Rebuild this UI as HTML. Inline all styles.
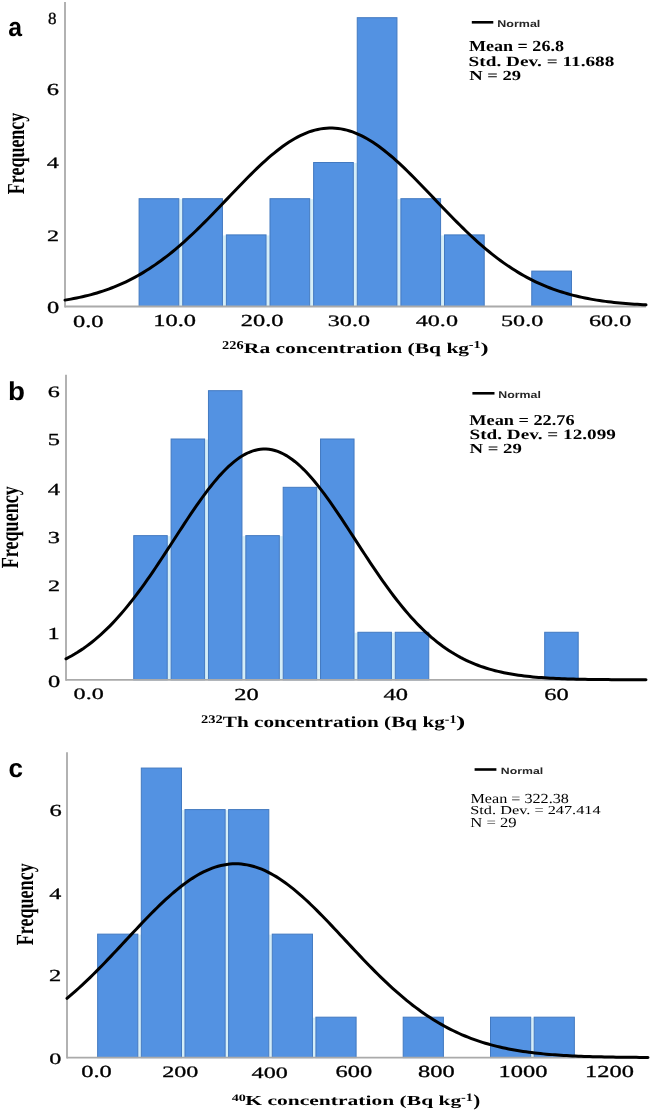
<!DOCTYPE html><html><head><meta charset="utf-8"><style>html,body{margin:0;padding:0;background:#fff;}svg{display:block;will-change:transform;filter:blur(0.35px);} text{text-rendering:geometricPrecision;}</style></head><body>
<svg width="650" height="1110" viewBox="0 0 650 1110">
<rect width="650" height="1110" fill="#fff"/>
<g id="gfx">
<rect x="179.30" y="199.20" width="2.93" height="107.30" fill="#d4eef8"/>
<rect x="222.93" y="235.40" width="2.93" height="71.10" fill="#d4eef8"/>
<rect x="266.56" y="235.40" width="2.93" height="71.10" fill="#d4eef8"/>
<rect x="310.19" y="199.20" width="2.93" height="107.30" fill="#d4eef8"/>
<rect x="353.82" y="163.00" width="2.93" height="143.50" fill="#d4eef8"/>
<rect x="397.45" y="199.20" width="2.93" height="107.30" fill="#d4eef8"/>
<rect x="441.08" y="235.40" width="2.93" height="71.10" fill="#d4eef8"/>
<rect x="139.10" y="198.70" width="39.70" height="107.80" fill="#5392e2" stroke="#4279c0" stroke-width="1"/>
<rect x="182.73" y="198.70" width="39.70" height="107.80" fill="#5392e2" stroke="#4279c0" stroke-width="1"/>
<rect x="226.36" y="234.90" width="39.70" height="71.60" fill="#5392e2" stroke="#4279c0" stroke-width="1"/>
<rect x="269.99" y="198.70" width="39.70" height="107.80" fill="#5392e2" stroke="#4279c0" stroke-width="1"/>
<rect x="313.62" y="162.50" width="39.70" height="144.00" fill="#5392e2" stroke="#4279c0" stroke-width="1"/>
<rect x="357.25" y="17.70" width="39.70" height="288.80" fill="#5392e2" stroke="#4279c0" stroke-width="1"/>
<rect x="400.88" y="198.70" width="39.70" height="107.80" fill="#5392e2" stroke="#4279c0" stroke-width="1"/>
<rect x="444.51" y="234.90" width="39.70" height="71.60" fill="#5392e2" stroke="#4279c0" stroke-width="1"/>
<rect x="531.77" y="271.10" width="39.70" height="35.40" fill="#5392e2" stroke="#4279c0" stroke-width="1"/>
<line x1="65.00" y1="2.00" x2="65.00" y2="307.40" stroke="#aaaaaa" stroke-width="1.8"/>
<line x1="65.00" y1="306.50" x2="646.00" y2="306.50" stroke="#aaaaaa" stroke-width="1.8"/>
<path d="M65.00 300.11 L67.91 299.63 L70.81 299.12 L73.72 298.58 L76.62 298.00 L79.53 297.39 L82.43 296.75 L85.34 296.07 L88.24 295.35 L91.14 294.59 L94.05 293.78 L96.95 292.94 L99.86 292.05 L102.77 291.11 L105.67 290.12 L108.58 289.09 L111.48 288.00 L114.38 286.87 L117.29 285.68 L120.19 284.43 L123.10 283.13 L126.00 281.77 L128.91 280.36 L131.81 278.88 L134.72 277.35 L137.62 275.75 L140.53 274.09 L143.44 272.37 L146.34 270.59 L149.25 268.75 L152.15 266.84 L155.06 264.87 L157.96 262.83 L160.87 260.73 L163.77 258.57 L166.68 256.35 L169.58 254.06 L172.49 251.72 L175.39 249.31 L178.30 246.85 L181.20 244.33 L184.11 241.76 L187.01 239.13 L189.92 236.46 L192.82 233.73 L195.72 230.96 L198.63 228.14 L201.53 225.29 L204.44 222.39 L207.34 219.47 L210.25 216.51 L213.16 213.53 L216.06 210.52 L218.97 207.50 L221.87 204.46 L224.78 201.41 L227.68 198.36 L230.59 195.31 L233.49 192.26 L236.40 189.22 L239.30 186.20 L242.21 183.19 L245.11 180.22 L248.01 177.27 L250.92 174.36 L253.82 171.49 L256.73 168.67 L259.63 165.90 L262.54 163.19 L265.44 160.55 L268.35 157.97 L271.25 155.47 L274.16 153.05 L277.06 150.71 L279.97 148.46 L282.88 146.31 L285.78 144.26 L288.69 142.31 L291.59 140.48 L294.50 138.75 L297.40 137.14 L300.31 135.65 L303.21 134.29 L306.12 133.05 L309.02 131.95 L311.93 130.97 L314.83 130.13 L317.74 129.43 L320.64 128.87 L323.55 128.44 L326.45 128.16 L329.36 128.02 L332.26 128.02 L335.17 128.16 L338.07 128.44 L340.98 128.87 L343.88 129.43 L346.79 130.14 L349.69 130.98 L352.60 131.95 L355.50 133.06 L358.40 134.30 L361.31 135.66 L364.21 137.15 L367.12 138.76 L370.02 140.49 L372.93 142.32 L375.83 144.27 L378.74 146.32 L381.64 148.48 L384.55 150.72 L387.45 153.06 L390.36 155.48 L393.26 157.98 L396.17 160.56 L399.07 163.21 L401.98 165.92 L404.88 168.68 L407.79 171.51 L410.69 174.37 L413.60 177.29 L416.50 180.23 L419.41 183.21 L422.31 186.21 L425.22 189.24 L428.12 192.28 L431.03 195.32 L433.94 198.38 L436.84 201.43 L439.75 204.48 L442.65 207.51 L445.56 210.54 L448.46 213.54 L451.37 216.53 L454.27 219.48 L457.18 222.41 L460.08 225.30 L462.99 228.16 L465.89 230.97 L468.80 233.74 L471.70 236.47 L474.61 239.15 L477.51 241.77 L480.42 244.35 L483.32 246.87 L486.23 249.33 L489.13 251.73 L492.04 254.08 L494.94 256.36 L497.85 258.58 L500.75 260.74 L503.65 262.84 L506.56 264.88 L509.46 266.85 L512.37 268.76 L515.27 270.60 L518.18 272.38 L521.09 274.10 L523.99 275.76 L526.89 277.35 L529.80 278.89 L532.70 280.36 L535.61 281.78 L538.51 283.14 L541.42 284.44 L544.33 285.68 L547.23 286.87 L550.13 288.01 L553.04 289.09 L555.94 290.13 L558.85 291.11 L561.75 292.05 L564.66 292.94 L567.57 293.79 L570.47 294.59 L573.38 295.35 L576.28 296.07 L579.18 296.75 L582.09 297.40 L585.00 298.01 L587.90 298.58 L590.80 299.12 L593.71 299.63 L596.62 300.11 L599.52 300.56 L602.42 300.99 L605.33 301.38 L608.24 301.76 L611.14 302.10 L614.04 302.43 L616.95 302.74 L619.86 303.02 L622.76 303.29 L625.66 303.54 L628.57 303.77 L631.48 303.98 L634.38 304.18 L637.28 304.37 L640.19 304.54 L643.10 304.70 L646.00 304.85" fill="none" stroke="#000" stroke-width="3.0" stroke-linecap="round"/>
<rect x="167.74" y="536.14" width="2.86" height="143.66" fill="#d4eef8"/>
<rect x="205.10" y="439.50" width="2.86" height="240.30" fill="#d4eef8"/>
<rect x="242.46" y="536.14" width="2.86" height="143.66" fill="#d4eef8"/>
<rect x="279.82" y="536.14" width="2.86" height="143.66" fill="#d4eef8"/>
<rect x="317.18" y="487.82" width="2.86" height="191.98" fill="#d4eef8"/>
<rect x="354.54" y="632.78" width="2.86" height="47.02" fill="#d4eef8"/>
<rect x="391.90" y="632.78" width="2.86" height="47.02" fill="#d4eef8"/>
<rect x="133.74" y="535.64" width="33.50" height="144.16" fill="#5392e2" stroke="#4279c0" stroke-width="1"/>
<rect x="171.10" y="439.00" width="33.50" height="240.80" fill="#5392e2" stroke="#4279c0" stroke-width="1"/>
<rect x="208.46" y="390.68" width="33.50" height="289.12" fill="#5392e2" stroke="#4279c0" stroke-width="1"/>
<rect x="245.82" y="535.64" width="33.50" height="144.16" fill="#5392e2" stroke="#4279c0" stroke-width="1"/>
<rect x="283.18" y="487.32" width="33.50" height="192.48" fill="#5392e2" stroke="#4279c0" stroke-width="1"/>
<rect x="320.54" y="439.00" width="33.50" height="240.80" fill="#5392e2" stroke="#4279c0" stroke-width="1"/>
<rect x="357.90" y="632.28" width="33.50" height="47.52" fill="#5392e2" stroke="#4279c0" stroke-width="1"/>
<rect x="395.26" y="632.28" width="33.50" height="47.52" fill="#5392e2" stroke="#4279c0" stroke-width="1"/>
<rect x="544.70" y="632.28" width="33.50" height="47.52" fill="#5392e2" stroke="#4279c0" stroke-width="1"/>
<line x1="66.00" y1="374.80" x2="66.00" y2="680.70" stroke="#aaaaaa" stroke-width="1.8"/>
<line x1="66.00" y1="679.80" x2="646.00" y2="679.80" stroke="#aaaaaa" stroke-width="1.8"/>
<path d="M66.00 658.80 L68.90 657.29 L71.80 655.70 L74.70 654.02 L77.60 652.25 L80.50 650.38 L83.40 648.43 L86.30 646.37 L89.20 644.22 L92.10 641.97 L95.00 639.62 L97.90 637.17 L100.80 634.61 L103.70 631.95 L106.60 629.18 L109.50 626.31 L112.40 623.34 L115.30 620.25 L118.20 617.07 L121.10 613.78 L124.00 610.39 L126.90 606.90 L129.80 603.31 L132.70 599.63 L135.60 595.86 L138.50 592.00 L141.40 588.05 L144.30 584.03 L147.20 579.93 L150.10 575.77 L153.00 571.54 L155.90 567.25 L158.80 562.91 L161.70 558.53 L164.60 554.12 L167.50 549.67 L170.40 545.21 L173.30 540.74 L176.20 536.26 L179.10 531.80 L182.00 527.35 L184.90 522.92 L187.80 518.53 L190.70 514.19 L193.60 509.91 L196.50 505.69 L199.40 501.55 L202.30 497.50 L205.20 493.55 L208.10 489.70 L211.00 485.98 L213.90 482.38 L216.80 478.93 L219.70 475.62 L222.60 472.46 L225.50 469.48 L228.40 466.67 L231.30 464.04 L234.20 461.61 L237.10 459.37 L240.00 457.33 L242.90 455.51 L245.80 453.91 L248.70 452.52 L251.60 451.36 L254.50 450.43 L257.40 449.73 L260.30 449.26 L263.20 449.03 L266.10 449.03 L269.00 449.27 L271.90 449.75 L274.80 450.45 L277.70 451.39 L280.60 452.56 L283.50 453.96 L286.40 455.57 L289.30 457.40 L292.20 459.44 L295.10 461.69 L298.00 464.13 L300.90 466.76 L303.80 469.58 L306.70 472.57 L309.60 475.73 L312.50 479.04 L315.40 482.50 L318.30 486.11 L321.20 489.83 L324.10 493.68 L327.00 497.64 L329.90 501.69 L332.80 505.84 L335.70 510.05 L338.60 514.34 L341.50 518.68 L344.40 523.07 L347.30 527.50 L350.20 531.95 L353.10 536.42 L356.00 540.89 L358.90 545.37 L361.80 549.83 L364.70 554.27 L367.60 558.68 L370.50 563.06 L373.40 567.40 L376.30 571.68 L379.20 575.91 L382.10 580.07 L385.00 584.17 L387.90 588.19 L390.80 592.13 L393.70 595.99 L396.60 599.76 L399.50 603.44 L402.40 607.02 L405.30 610.51 L408.20 613.89 L411.10 617.18 L414.00 620.36 L416.90 623.44 L419.80 626.41 L422.70 629.28 L425.60 632.04 L428.50 634.70 L431.40 637.26 L434.30 639.71 L437.20 642.05 L440.10 644.30 L443.00 646.45 L445.90 648.50 L448.80 650.45 L451.70 652.31 L454.60 654.08 L457.50 655.75 L460.40 657.35 L463.30 658.86 L466.20 660.28 L469.10 661.63 L472.00 662.90 L474.90 664.10 L477.80 665.23 L480.70 666.29 L483.60 667.29 L486.50 668.23 L489.40 669.10 L492.30 669.92 L495.20 670.69 L498.10 671.40 L501.00 672.07 L503.90 672.69 L506.80 673.27 L509.70 673.81 L512.60 674.31 L515.50 674.77 L518.40 675.20 L521.30 675.59 L524.20 675.96 L527.10 676.30 L530.00 676.61 L532.90 676.90 L535.80 677.16 L538.70 677.40 L541.60 677.62 L544.50 677.83 L547.40 678.01 L550.30 678.18 L553.20 678.34 L556.10 678.48 L559.00 678.61 L561.90 678.73 L564.80 678.84 L567.70 678.93 L570.60 679.02 L573.50 679.10 L576.40 679.17 L579.30 679.24 L582.20 679.30 L585.10 679.35 L588.00 679.40 L590.90 679.44 L593.80 679.48 L596.70 679.52 L599.60 679.55 L602.50 679.58 L605.40 679.60 L608.30 679.62 L611.20 679.64 L614.10 679.66 L617.00 679.68 L619.90 679.69 L622.80 679.71 L625.70 679.72 L628.60 679.73 L631.50 679.74 L634.40 679.74 L637.30 679.75 L640.20 679.76 L643.10 679.76 L646.00 679.77" fill="none" stroke="#000" stroke-width="3.0" stroke-linecap="round"/>
<rect x="138.35" y="934.64" width="2.45" height="122.96" fill="#d4eef8"/>
<rect x="182.00" y="810.08" width="2.45" height="247.52" fill="#d4eef8"/>
<rect x="225.65" y="810.08" width="2.45" height="247.52" fill="#d4eef8"/>
<rect x="269.30" y="934.64" width="2.45" height="122.96" fill="#d4eef8"/>
<rect x="312.95" y="1017.68" width="2.45" height="39.92" fill="#d4eef8"/>
<rect x="531.20" y="1017.68" width="2.45" height="39.92" fill="#d4eef8"/>
<rect x="97.65" y="934.14" width="40.20" height="123.46" fill="#5392e2" stroke="#4279c0" stroke-width="1"/>
<rect x="141.30" y="768.06" width="40.20" height="289.54" fill="#5392e2" stroke="#4279c0" stroke-width="1"/>
<rect x="184.95" y="809.58" width="40.20" height="248.02" fill="#5392e2" stroke="#4279c0" stroke-width="1"/>
<rect x="228.60" y="809.58" width="40.20" height="248.02" fill="#5392e2" stroke="#4279c0" stroke-width="1"/>
<rect x="272.25" y="934.14" width="40.20" height="123.46" fill="#5392e2" stroke="#4279c0" stroke-width="1"/>
<rect x="315.90" y="1017.18" width="40.20" height="40.42" fill="#5392e2" stroke="#4279c0" stroke-width="1"/>
<rect x="403.20" y="1017.18" width="40.20" height="40.42" fill="#5392e2" stroke="#4279c0" stroke-width="1"/>
<rect x="490.50" y="1017.18" width="40.20" height="40.42" fill="#5392e2" stroke="#4279c0" stroke-width="1"/>
<rect x="534.15" y="1017.18" width="40.20" height="40.42" fill="#5392e2" stroke="#4279c0" stroke-width="1"/>
<line x1="67.00" y1="752.20" x2="67.00" y2="1058.50" stroke="#aaaaaa" stroke-width="1.8"/>
<line x1="67.00" y1="1057.60" x2="648.00" y2="1057.60" stroke="#aaaaaa" stroke-width="1.8"/>
<path d="M67.00 998.37 L69.91 995.92 L72.81 993.42 L75.72 990.86 L78.62 988.25 L81.53 985.58 L84.43 982.87 L87.34 980.11 L90.24 977.30 L93.14 974.46 L96.05 971.57 L98.95 968.64 L101.86 965.68 L104.77 962.68 L107.67 959.66 L110.58 956.61 L113.48 953.54 L116.38 950.46 L119.29 947.36 L122.19 944.24 L125.10 941.13 L128.00 938.01 L130.91 934.89 L133.81 931.79 L136.72 928.69 L139.62 925.61 L142.53 922.55 L145.44 919.52 L148.34 916.52 L151.25 913.56 L154.15 910.64 L157.06 907.76 L159.96 904.94 L162.87 902.17 L165.77 899.46 L168.68 896.82 L171.58 894.25 L174.49 891.75 L177.39 889.34 L180.30 887.01 L183.20 884.77 L186.11 882.62 L189.01 880.57 L191.92 878.62 L194.82 876.78 L197.72 875.05 L200.63 873.44 L203.53 871.93 L206.44 870.55 L209.34 869.29 L212.25 868.16 L215.16 867.15 L218.06 866.27 L220.97 865.52 L223.87 864.91 L226.78 864.43 L229.68 864.08 L232.59 863.87 L235.49 863.80 L238.40 863.86 L241.30 864.06 L244.21 864.40 L247.11 864.87 L250.01 865.47 L252.92 866.21 L255.82 867.08 L258.73 868.08 L261.63 869.20 L264.54 870.45 L267.44 871.82 L270.35 873.32 L273.25 874.93 L276.16 876.65 L279.06 878.48 L281.97 880.42 L284.88 882.46 L287.78 884.60 L290.69 886.83 L293.59 889.16 L296.50 891.57 L299.40 894.06 L302.31 896.62 L305.21 899.26 L308.12 901.96 L311.02 904.72 L313.93 907.54 L316.83 910.42 L319.74 913.34 L322.64 916.30 L325.55 919.29 L328.45 922.32 L331.36 925.38 L334.26 928.46 L337.17 931.55 L340.07 934.66 L342.98 937.77 L345.88 940.89 L348.79 944.01 L351.69 947.12 L354.60 950.22 L357.50 953.31 L360.40 956.38 L363.31 959.43 L366.21 962.45 L369.12 965.45 L372.02 968.42 L374.93 971.35 L377.83 974.24 L380.74 977.09 L383.64 979.90 L386.55 982.66 L389.45 985.38 L392.36 988.05 L395.26 990.66 L398.17 993.23 L401.07 995.73 L403.98 998.19 L406.88 1000.58 L409.79 1002.92 L412.69 1005.20 L415.60 1007.41 L418.50 1009.57 L421.41 1011.67 L424.31 1013.71 L427.22 1015.68 L430.12 1017.60 L433.03 1019.45 L435.94 1021.25 L438.84 1022.98 L441.75 1024.66 L444.65 1026.27 L447.56 1027.83 L450.46 1029.33 L453.37 1030.78 L456.27 1032.16 L459.18 1033.50 L462.08 1034.77 L464.99 1036.00 L467.89 1037.18 L470.80 1038.30 L473.70 1039.38 L476.61 1040.40 L479.51 1041.38 L482.42 1042.32 L485.32 1043.21 L488.23 1044.06 L491.13 1044.87 L494.04 1045.64 L496.94 1046.37 L499.85 1047.06 L502.75 1047.72 L505.65 1048.34 L508.56 1048.93 L511.46 1049.49 L514.37 1050.02 L517.27 1050.51 L520.18 1050.98 L523.09 1051.43 L525.99 1051.84 L528.89 1052.24 L531.80 1052.61 L534.70 1052.95 L537.61 1053.28 L540.51 1053.59 L543.42 1053.87 L546.33 1054.14 L549.23 1054.39 L552.13 1054.63 L555.04 1054.85 L557.94 1055.06 L560.85 1055.25 L563.75 1055.43 L566.66 1055.59 L569.57 1055.75 L572.47 1055.89 L575.38 1056.03 L578.28 1056.15 L581.18 1056.27 L584.09 1056.38 L587.00 1056.48 L589.90 1056.57 L592.80 1056.65 L595.71 1056.73 L598.62 1056.80 L601.52 1056.87 L604.42 1056.93 L607.33 1056.99 L610.24 1057.04 L613.14 1057.09 L616.04 1057.14 L618.95 1057.18 L621.86 1057.22 L624.76 1057.25 L627.66 1057.28 L630.57 1057.31 L633.48 1057.34 L636.38 1057.36 L639.28 1057.38 L642.19 1057.40 L645.10 1057.42 L648.00 1057.44" fill="none" stroke="#000" stroke-width="3.0" stroke-linecap="round"/>
<line x1="471.80" y1="22.30" x2="493.30" y2="22.30" stroke="#000" stroke-width="2.6"/>
<line x1="472.40" y1="393.30" x2="494.50" y2="393.30" stroke="#000" stroke-width="2.6"/>
<line x1="474.60" y1="769.50" x2="496.40" y2="769.50" stroke="#000" stroke-width="2.6"/>
</g>
<text id="t0" transform="translate(240.829 326.246) scale(1.4371 0.9970)" font-family='"Liberation Serif", serif' font-weight="normal" font-size="17.00" fill="#000" stroke="#000" stroke-width="0.30">20.0</text>
<text id="t1" transform="translate(48.100 23.500) scale(1.0000 1.0000)" font-family='"Liberation Serif", serif' font-weight="normal" font-size="17.00" fill="#000" stroke="#000" stroke-width="0.30">8</text>
<text id="t2" transform="translate(46.743 94.986) scale(1.4371 0.9970)" font-family='"Liberation Serif", serif' font-weight="normal" font-size="17.00" fill="#000" stroke="#000" stroke-width="0.30">6</text>
<text id="t3" transform="translate(46.760 168.144) scale(1.4200 0.9356)" font-family='"Liberation Serif", serif' font-weight="normal" font-size="17.00" fill="#000" stroke="#000" stroke-width="0.30">4</text>
<text id="t4" transform="translate(46.972 241.352) scale(1.4202 0.9328)" font-family='"Liberation Serif", serif' font-weight="normal" font-size="17.00" fill="#000" stroke="#000" stroke-width="0.30">2</text>
<text id="t5" transform="translate(47.019 313.239) scale(1.4371 0.9970)" font-family='"Liberation Serif", serif' font-weight="normal" font-size="17.00" fill="#000" stroke="#000" stroke-width="0.30">0</text>
<text id="t6" transform="translate(72.952 326.967) scale(1.4371 0.9970)" font-family='"Liberation Serif", serif' font-weight="normal" font-size="17.00" fill="#000" stroke="#000" stroke-width="0.30">0.0</text>
<text id="t7" transform="translate(153.322 326.252) scale(1.4373 0.9940)" font-family='"Liberation Serif", serif' font-weight="normal" font-size="17.00" fill="#000" stroke="#000" stroke-width="0.30">10.0</text>
<text id="t8" transform="translate(327.744 326.258) scale(1.4200 0.9356)" font-family='"Liberation Serif", serif' font-weight="normal" font-size="17.00" fill="#000" stroke="#000" stroke-width="0.30">30.0</text>
<text id="t9" transform="translate(415.728 326.252) scale(1.4200 0.9356)" font-family='"Liberation Serif", serif' font-weight="normal" font-size="17.00" fill="#000" stroke="#000" stroke-width="0.30">40.0</text>
<text id="t10" transform="translate(501.045 326.032) scale(1.4202 0.9328)" font-family='"Liberation Serif", serif' font-weight="normal" font-size="17.00" fill="#000" stroke="#000" stroke-width="0.30">50.0</text>
<text id="t11" transform="translate(588.982 326.256) scale(1.4200 0.9356)" font-family='"Liberation Serif", serif' font-weight="normal" font-size="17.00" fill="#000" stroke="#000" stroke-width="0.30">60.0</text>
<text id="t12" transform="translate(47.754 397.338) scale(1.4202 0.9328)" font-family='"Liberation Serif", serif' font-weight="normal" font-size="17.00" fill="#000" stroke="#000" stroke-width="0.30">6</text>
<text id="t13" transform="translate(47.666 444.870) scale(1.4373 0.9940)" font-family='"Liberation Serif", serif' font-weight="normal" font-size="17.00" fill="#000" stroke="#000" stroke-width="0.30">5</text>
<text id="t14" transform="translate(47.860 494.539) scale(1.4371 0.9970)" font-family='"Liberation Serif", serif' font-weight="normal" font-size="17.00" fill="#000" stroke="#000" stroke-width="0.30">4</text>
<text id="t15" transform="translate(47.733 542.838) scale(1.4373 0.9940)" font-family='"Liberation Serif", serif' font-weight="normal" font-size="17.00" fill="#000" stroke="#000" stroke-width="0.30">3</text>
<text id="t16" transform="translate(47.884 590.608) scale(1.4200 0.9356)" font-family='"Liberation Serif", serif' font-weight="normal" font-size="17.00" fill="#000" stroke="#000" stroke-width="0.30">2</text>
<text id="t17" transform="translate(47.574 638.756) scale(1.4373 0.9940)" font-family='"Liberation Serif", serif' font-weight="normal" font-size="17.00" fill="#000" stroke="#000" stroke-width="0.30">1</text>
<text id="t18" transform="translate(47.956 686.873) scale(1.4373 0.9940)" font-family='"Liberation Serif", serif' font-weight="normal" font-size="17.00" fill="#000" stroke="#000" stroke-width="0.30">0</text>
<text id="t19" transform="translate(73.618 699.167) scale(1.4200 0.9356)" font-family='"Liberation Serif", serif' font-weight="normal" font-size="17.00" fill="#000" stroke="#000" stroke-width="0.30">0.0</text>
<text id="t20" transform="translate(234.300 699.684) scale(1.4371 0.9970)" font-family='"Liberation Serif", serif' font-weight="normal" font-size="17.00" fill="#000" stroke="#000" stroke-width="0.30">20</text>
<text id="t21" transform="translate(383.607 699.940) scale(1.4373 0.9940)" font-family='"Liberation Serif", serif' font-weight="normal" font-size="17.00" fill="#000" stroke="#000" stroke-width="0.30">40</text>
<text id="t22" transform="translate(544.252 700.466) scale(1.4371 0.9970)" font-family='"Liberation Serif", serif' font-weight="normal" font-size="17.00" fill="#000" stroke="#000" stroke-width="0.30">60</text>
<text id="t23" transform="translate(49.543 815.982) scale(1.4371 0.9970)" font-family='"Liberation Serif", serif' font-weight="normal" font-size="17.00" fill="#000" stroke="#000" stroke-width="0.30">6</text>
<text id="t24" transform="translate(49.176 898.922) scale(1.4200 0.9356)" font-family='"Liberation Serif", serif' font-weight="normal" font-size="17.00" fill="#000" stroke="#000" stroke-width="0.30">4</text>
<text id="t25" transform="translate(49.081 981.221) scale(1.4371 0.9970)" font-family='"Liberation Serif", serif' font-weight="normal" font-size="17.00" fill="#000" stroke="#000" stroke-width="0.30">2</text>
<text id="t26" transform="translate(49.285 1063.988) scale(1.4200 0.9356)" font-family='"Liberation Serif", serif' font-weight="normal" font-size="17.00" fill="#000" stroke="#000" stroke-width="0.30">0</text>
<text id="t27" transform="translate(81.252 1077.469) scale(1.4371 0.9970)" font-family='"Liberation Serif", serif' font-weight="normal" font-size="17.00" fill="#000" stroke="#000" stroke-width="0.30">0.0</text>
<text id="t28" transform="translate(162.221 1076.983) scale(1.4202 0.9328)" font-family='"Liberation Serif", serif' font-weight="normal" font-size="17.00" fill="#000" stroke="#000" stroke-width="0.30">200</text>
<text id="t29" transform="translate(251.595 1077.619) scale(1.4200 0.9356)" font-family='"Liberation Serif", serif' font-weight="normal" font-size="17.00" fill="#000" stroke="#000" stroke-width="0.30">400</text>
<text id="t30" transform="translate(335.472 1076.571) scale(1.4371 0.9970)" font-family='"Liberation Serif", serif' font-weight="normal" font-size="17.00" fill="#000" stroke="#000" stroke-width="0.30">600</text>
<text id="t31" transform="translate(417.952 1076.678) scale(1.4371 0.9970)" font-family='"Liberation Serif", serif' font-weight="normal" font-size="17.00" fill="#000" stroke="#000" stroke-width="0.30">800</text>
<text id="t32" transform="translate(498.561 1076.695) scale(1.4371 0.9970)" font-family='"Liberation Serif", serif' font-weight="normal" font-size="17.00" fill="#000" stroke="#000" stroke-width="0.30">1000</text>
<text id="t33" transform="translate(585.094 1076.668) scale(1.4373 0.9940)" font-family='"Liberation Serif", serif' font-weight="normal" font-size="17.00" fill="#000" stroke="#000" stroke-width="0.30">1200</text>
<text id="t34" transform="translate(222.022 349.191) scale(1.3061 1.0931)" font-family='"Liberation Serif", serif' font-weight="bold" font-size="11.00" fill="#000">226</text>
<text id="t35" transform="translate(243.846 352.654) scale(1.4340 0.9798)" font-family='"Liberation Serif", serif' font-weight="bold" font-size="15.00" fill="#000">Ra concentration (Bq kg</text>
<text id="t36" transform="translate(468.733 348.498) scale(1.3065 0.9754)" font-family='"Liberation Serif", serif' font-weight="bold" font-size="11.00" fill="#000">-1</text>
<text id="t37" transform="translate(480.615 353.402) scale(1.6091 1.0149)" font-family='"Liberation Serif", serif' font-weight="bold" font-size="15.00" fill="#000">)</text>
<text id="t38" transform="translate(200.944 723.328) scale(1.3209 1.0621)" font-family='"Liberation Serif", serif' font-weight="bold" font-size="11.00" fill="#000">232</text>
<text id="t39" transform="translate(222.869 726.910) scale(1.4125 1.0416)" font-family='"Liberation Serif", serif' font-weight="bold" font-size="15.00" fill="#000">Th concentration (Bq kg</text>
<text id="t40" transform="translate(444.829 722.586) scale(1.2610 1.0713)" font-family='"Liberation Serif", serif' font-weight="bold" font-size="11.00" fill="#000">-1</text>
<text id="t41" transform="translate(456.117 727.176) scale(1.8686 1.0877)" font-family='"Liberation Serif", serif' font-weight="bold" font-size="15.00" fill="#000">)</text>
<text id="t42" transform="translate(231.672 1100.807) scale(1.2840 0.9075)" font-family='"Liberation Serif", serif' font-weight="bold" font-size="11.00" fill="#000">40</text>
<text id="t43" transform="translate(245.265 1105.199) scale(1.4360 0.9153)" font-family='"Liberation Serif", serif' font-weight="bold" font-size="15.00" fill="#000">K concentration (Bq kg</text>
<text id="t44" transform="translate(460.961 1100.797) scale(1.3062 1.0341)" font-family='"Liberation Serif", serif' font-weight="bold" font-size="11.00" fill="#000">-1</text>
<text id="t45" transform="translate(473.141 1106.095) scale(1.3971 1.1197)" font-family='"Liberation Serif", serif' font-weight="bold" font-size="15.00" fill="#000">)</text>
<text id="t46" transform="translate(24.001 194.135) rotate(-90) scale(0.7478 1.0193)" font-family='"Liberation Serif", serif' font-weight="bold" font-size="24.00" fill="#000">Frequency</text>
<text id="t47" transform="translate(17.860 568.199) rotate(-90) scale(0.7529 1.0258)" font-family='"Liberation Serif", serif' font-weight="bold" font-size="24.00" fill="#000">Frequency</text>
<text id="t48" transform="translate(33.442 945.137) rotate(-90) scale(0.7511 1.0256)" font-family='"Liberation Serif", serif' font-weight="bold" font-size="24.00" fill="#000">Frequency</text>
<text id="t49" transform="translate(8.193 35.957) scale(1.2387 1.3169)" font-family='"Liberation Sans", sans-serif' font-weight="bold" font-size="20.00" fill="#000">a</text>
<text id="t50" transform="translate(8.070 399.960) scale(1.3867 1.3005)" font-family='"Liberation Sans", sans-serif' font-weight="bold" font-size="20.00" fill="#000">b</text>
<text id="t51" transform="translate(8.456 777.082) scale(1.3076 1.3083)" font-family='"Liberation Sans", sans-serif' font-weight="bold" font-size="20.00" fill="#000">c</text>
<text id="t52" transform="translate(497.299 26.801) scale(1.2485 0.9861)" font-family='"Liberation Sans", sans-serif' font-weight="bold" font-size="10.00" fill="#262626">Normal</text>
<text id="t53" transform="translate(498.308 397.606) scale(1.2365 0.9722)" font-family='"Liberation Sans", sans-serif' font-weight="bold" font-size="10.00" fill="#262626">Normal</text>
<text id="t54" transform="translate(500.851 774.000) scale(1.2278 0.9128)" font-family='"Liberation Sans", sans-serif' font-weight="bold" font-size="10.00" fill="#262626">Normal</text>
<text id="t55" transform="translate(468.880 51.018) scale(1.2902 1.1024)" font-family='"Liberation Serif", serif' font-weight="bold" font-size="14.00" fill="#000">Mean = 26.8</text>
<text id="t56" transform="translate(468.575 66.321) scale(1.3752 1.0118)" font-family='"Liberation Serif", serif' font-weight="bold" font-size="14.00" fill="#000">Std. Dev. = 11.688</text>
<text id="t57" transform="translate(469.181 80.040) scale(1.3283 0.9876)" font-family='"Liberation Serif", serif' font-weight="bold" font-size="14.00" fill="#000">N = 29</text>
<text id="t58" transform="translate(469.299 425.035) scale(1.3049 1.0770)" font-family='"Liberation Serif", serif' font-weight="bold" font-size="14.00" fill="#000">Mean = 22.76</text>
<text id="t59" transform="translate(469.526 439.357) scale(1.3708 1.0152)" font-family='"Liberation Serif", serif' font-weight="bold" font-size="14.00" fill="#000">Std. Dev. = 12.099</text>
<text id="t60" transform="translate(469.409 453.072) scale(1.3418 0.9912)" font-family='"Liberation Serif", serif' font-weight="bold" font-size="14.00" fill="#000">N = 29</text>
<text id="t61" transform="translate(470.390 803.011) scale(1.2441 1.0687)" font-family='"Liberation Serif", serif' font-weight="normal" font-size="13.00" fill="#000">Mean = 322.38</text>
<text id="t62" transform="translate(470.247 814.357) scale(1.2536 0.9283)" font-family='"Liberation Serif", serif' font-weight="normal" font-size="13.00" fill="#000">Std. Dev. = 247.414</text>
<text id="t63" transform="translate(470.264 826.802) scale(1.2823 1.0718)" font-family='"Liberation Serif", serif' font-weight="normal" font-size="13.00" fill="#000">N = 29</text>
</svg></body></html>
